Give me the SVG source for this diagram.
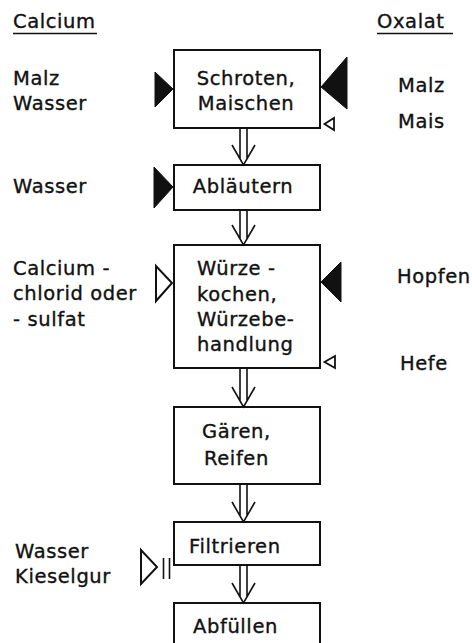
<svg xmlns="http://www.w3.org/2000/svg" width="472" height="643" viewBox="0 0 472 643">
  <style>
    text { font-family: "DejaVu Sans", "Liberation Sans", sans-serif; font-size: 19.5px; letter-spacing: 0.6px; fill: #111; stroke: #111; stroke-width: 0.35px; }
    .box { fill: #fff; stroke: #111; stroke-width: 2; }
    .flow { fill: none; stroke: #111; stroke-width: 1.6; stroke-linejoin: miter; }
    .solid { fill: #111; stroke: #111; stroke-width: 1; stroke-linejoin: round; }
    .open { fill: #fff; stroke: #111; stroke-width: 2; stroke-linejoin: miter; }
    .small { fill: #fff; stroke: #111; stroke-width: 1.8; }
    .rule { stroke: #111; stroke-width: 1.5; }
  </style>

  <!-- column headings -->
  <g id="heading-calcium">
    <text x="13" y="28">Calcium</text>
    <line class="rule" x1="13" y1="33.5" x2="97" y2="33.5"/>
  </g>
  <g id="heading-oxalat">
    <text x="377" y="28">Oxalat</text>
    <line class="rule" x1="377" y1="33.5" x2="453" y2="33.5"/>
  </g>

  <!-- process steps -->
  <g id="step-schroten">
    <rect class="box" x="174" y="50" width="146" height="78"/>
    <text x="246" y="85" text-anchor="middle">Schroten,</text>
    <text x="246" y="110" text-anchor="middle">Maischen</text>
  </g>
  <g id="step-ablaeutern">
    <rect class="box" x="174" y="165" width="146" height="45"/>
    <text x="243" y="193" text-anchor="middle">Abläutern</text>
  </g>
  <g id="step-wuerzekochen">
    <rect class="box" x="174" y="245" width="146" height="123"/>
    <text x="197" y="275">Würze -</text>
    <text x="197" y="301">kochen,</text>
    <text x="197" y="326">Würzebe-</text>
    <text x="197" y="351">handlung</text>
  </g>
  <g id="step-gaeren">
    <rect class="box" x="174" y="407" width="146" height="77"/>
    <text x="202" y="438">Gären,</text>
    <text x="204" y="465">Reifen</text>
  </g>
  <g id="step-filtrieren">
    <rect class="box" x="174" y="522" width="146" height="43"/>
    <text x="189" y="553">Filtrieren</text>
  </g>
  <g id="step-abfuellen">
    <rect class="box" x="174" y="603" width="146" height="50"/>
    <text x="193" y="633">Abfüllen</text>
  </g>

  <!-- inputs, calcium side -->
  <g id="in-malz-wasser">
    <text x="13" y="85">Malz</text>
    <text x="13" y="110">Wasser</text>
    <polygon class="solid" points="155,72 155,107 173,89"/>
  </g>
  <g id="in-wasser">
    <text x="13" y="193">Wasser</text>
    <polygon class="solid" points="154,167 154,208 173,187"/>
  </g>
  <g id="in-calciumsalz">
    <text x="13" y="275">Calcium -</text>
    <text x="13" y="300">chlorid  oder</text>
    <text x="13" y="326">- sulfat</text>
    <polygon class="open" points="156,266 156,301 172,283"/>
  </g>
  <g id="in-wasser-kieselgur">
    <text x="15" y="558">Wasser</text>
    <text x="15" y="583">Kieselgur</text>
    <polygon class="open" points="141,550 141,584 157,567"/>
    <line class="flow" x1="163.5" y1="558" x2="163.5" y2="579"/>
    <line class="flow" x1="169.5" y1="558" x2="169.5" y2="579"/>
  </g>

  <!-- inputs, oxalat side -->
  <g id="in-malz">
    <text x="398" y="92">Malz</text>
    <polygon class="solid" points="347,57 347,109 321,87"/>
  </g>
  <g id="in-mais">
    <text x="398" y="128">Mais</text>
    <polygon class="small" points="334,118 334,130 324.5,124"/>
  </g>
  <g id="in-hopfen">
    <text x="397" y="283">Hopfen</text>
    <polygon class="solid" points="341,262 341,302 321,282"/>
  </g>
  <g id="in-hefe">
    <text x="400" y="370">Hefe</text>
    <polygon class="small" points="335,356 335,368 324.5,362"/>
  </g>

  <!-- double-line flow arrows between steps -->
  <g id="connectors">
    <path class="flow" d="M240,128 V159 M247,128 V159 M232,145 L243.5,165 L255,145"/>
    <path class="flow" d="M240,210 V239 M247,210 V239 M232,225 L243.5,245 L255,225"/>
    <path class="flow" d="M240,368 V401 M247,368 V401 M232,387 L243.5,407 L255,387"/>
    <path class="flow" d="M240,484 V516 M247,484 V516 M232,502 L243.5,522 L255,502"/>
    <path class="flow" d="M240,565 V597 M247,565 V597 M232,583 L243.5,603 L255,583"/>
  </g>
</svg>
